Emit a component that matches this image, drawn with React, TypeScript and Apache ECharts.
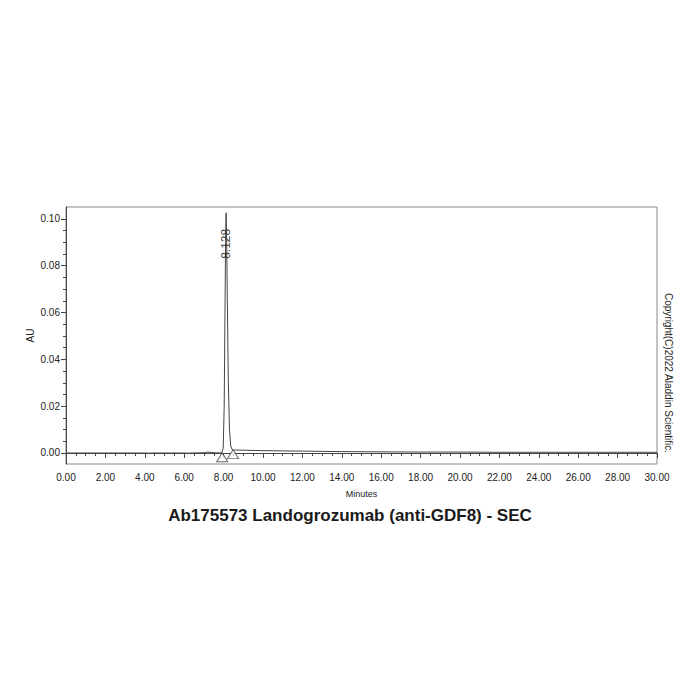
import React, { useEffect, useRef } from 'react'
import * as echarts from 'echarts'

/*==================================================================
    DATA
==================================================================*/
const times = [
  0, 1, 2, 3, 4, 4.2, 4.4, 5, 6, 6.2, 6.4, 7, 7.2, 7.4, 7.6, 7.8, 7.9, 7.98, 8.03, 8.07, 8.1,
  8.128, 8.15, 8.19, 8.24, 8.3, 8.36, 8.45, 8.6, 9, 10, 11, 12, 13, 14, 16, 18, 20, 22, 24, 26, 28, 30,
]
const signal = [
  0.0, 0.0, 0.0, 0.0, 0.0, -0.0001, 0.0, 0.0, 0.0, -0.0001, 0.0, 0.0001, 0.0004, 0.0002, 0.0001, 0.0, 0.0001,
  0.002, 0.02, 0.06, 0.09, 0.1026, 0.095, 0.065, 0.03, 0.01, 0.003, 0.0012, 0.0013, 0.0012, 0.001, 0.0009,
  0.0008, 0.0007, 0.0006, 0.0005, 0.0004, 0.0004, 0.0003, 0.0003, 0.0003, 0.0003, 0.0003,
]
const baselineMarks: [number, number][] = [[7.93, -0.0018], [8.48, -0.0005]]
const peakTime = 8.128
const peakHeight = 0.1026

const yLabels = [0, 0.02, 0.04, 0.06, 0.08, 0.1]
const yMinor = [0, 0.005, 0.01, 0.015, 0.02, 0.025, 0.03, 0.035, 0.04, 0.045, 0.05, 0.055, 0.06, 0.065, 0.07, 0.075, 0.08, 0.085, 0.09, 0.095, 0.1]

const FONT = '"Liberation Sans", Arial, sans-serif'

/*==================================================================
    CHART
==================================================================*/
export default function App() {
  const ref = useRef<HTMLDivElement>(null)

  useEffect(() => {
    document.body.style.margin = '0'
    if (!ref.current) return
    const chart = echarts.init(ref.current, undefined, { renderer: 'svg' })

    const option: echarts.EChartsOption = {
      animation: false,
      backgroundColor: '#fff',
      textStyle: { fontFamily: FONT },
      title: {
        text: 'Ab175573 Landogrozumab (anti-GDF8) - SEC',
        left: 'center',
        top: 502,
        textStyle: { fontSize: 17, fontWeight: 'bold', color: '#1a1a1a', fontFamily: FONT },
      },
      grid: { left: 66, right: 43, top: 207, bottom: 236, show: true, borderColor: '#888', borderWidth: 1 },
      xAxis: {
        type: 'value', min: 0, max: 30, interval: 2,
        name: 'Minutes', nameLocation: 'middle', nameGap: 25, nameMoveOverlap: false,
        nameTextStyle: { fontSize: 9, color: '#222' },
        axisLine: { lineStyle: { color: '#444' } },
        axisTick: { length: 5, lineStyle: { color: '#444' } },
        minorTick: { show: true, splitNumber: 4, length: 3, lineStyle: { color: '#444' } },
        axisLabel: { fontSize: 10, color: '#222', margin: 8, formatter: (v: number) => v.toFixed(2) },
        splitLine: { show: false },
      },
      yAxis: [
        {
          type: 'value', min: -0.0047, max: 0.1051,
          name: 'AU', nameLocation: 'middle', nameGap: 31, nameMoveOverlap: false,
          nameTextStyle: { fontSize: 10, color: '#222' },
          axisLine: { show: true, lineStyle: { color: '#444' } },
          axisTick: { show: true, length: 5, customValues: yLabels, lineStyle: { color: '#444' } },
          axisLabel: { fontSize: 10, color: '#222', margin: 6, customValues: yLabels, formatter: (v: number) => v.toFixed(2) },
          splitLine: { show: false },
        },
        {
          type: 'value', min: -0.0047, max: 0.1051, position: 'left',
          axisLine: { show: false },
          axisTick: { show: true, length: 3, customValues: yMinor, lineStyle: { color: '#444' } },
          axisLabel: { show: false },
          splitLine: { show: false },
        },
      ],
      graphic: [
        {
          type: 'text', x: 668, y: 373, rotation: -Math.PI / 2,
          style: { text: 'Copyright(C)2022 Aladdin Scientific.', fontSize: 10, fill: '#222', align: 'center', verticalAlign: 'middle', font: `10px ${FONT}` },
        },
      ],
      series: [
        {
          type: 'line', data: times.map((t, i) => [t, signal[i]]), showSymbol: false, symbol: 'none',
          lineStyle: { color: '#444', width: 1 }, z: 2,
        },
        {
          type: 'scatter', data: baselineMarks, symbol: 'triangle', symbolSize: [11, 9],
          itemStyle: { color: '#fff', borderColor: '#444', borderWidth: 1 }, z: 3,
        },
        {
          type: 'scatter', data: [[peakTime, peakHeight]], symbolSize: 0, z: 4,
          label: {
            show: true, formatter: peakTime.toFixed(3), rotate: 90, position: 'inside', offset: [-31, 0],
            fontSize: 12, color: '#111', align: 'center', verticalAlign: 'middle',
          },
        },
      ],
    }

    chart.setOption(option)
    return () => { chart.dispose() }
  }, [])

  return <div ref={ref} style={{ width: 700, height: 700 }} />
}
